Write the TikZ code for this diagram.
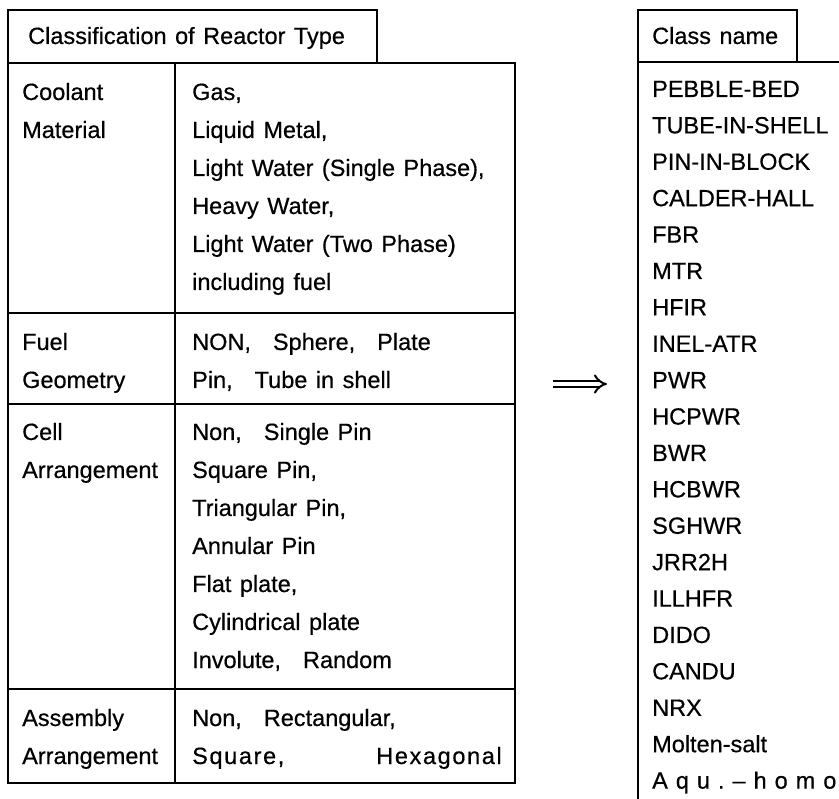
\documentclass[tikz,border=0pt]{standalone}
\usepackage{fontspec}
\setmainfont{Liberation Sans}[WordSpace=1.3, FakeBold=0.5]
\newfontfamily\spacedfont{Liberation Sans}[LetterSpace=7, FakeBold=0.5]
\usetikzlibrary{arrows.meta}
\newcommand\cgap{\hspace{22pt}}
\begin{document}
\begin{tikzpicture}[x=1pt,y=-1pt,
  rule/.style={line width=1.6pt, line cap=rect},
  txt/.style={anchor=base west, inner sep=0pt, font=\fontsize{23.5}{28}\selectfont},
  txtr/.style={anchor=base east, inner sep=0pt, font=\fontsize{23.5}{28}\selectfont},
]
\useasboundingbox (0,0) rectangle (839,799);
% ---------- left table ----------
\draw[rule] (8,10) rectangle (377,63);
\draw[rule] (8,63) rectangle (515,783);
\draw[rule] (8,313) -- (515,313);
\draw[rule] (8,404) -- (515,404);
\draw[rule] (8,689) -- (515,689);
\draw[rule] (175,63) -- (175,783);
\node[txt] (hd) at (28,44) {Classification of Reactor Type};
% first column
\node[txt] (cm1) at (22,100) {Coolant};
\node[txt] (cm2) at (22,138) {Material};
\node[txt] (fg1) at (22,350) {Fuel};
\node[txt] (fg2) at (22,388) {Geometry};
\node[txt] (ca1) at (22,440) {Cell};
\node[txt] (ca2) at (22,478) {Arrangement};
\node[txt] (aa1) at (22,726) {Assembly};
\node[txt] (aa2) at (22,764) {Arrangement};
% second column
\node[txt] (v1) at (192,100) {Gas,};
\node[txt] (v2) at (192,138) {Liquid Metal,};
\node[txt] (v3) at (192,176) {Light Water (Single Phase),};
\node[txt] (v4) at (192,214) {Heavy Water,};
\node[txt] (v5) at (192,252) {Light Water (Two Phase)};
\node[txt] (v6) at (192,290) {including fuel};
\node[txt] (v7) at (192,350) {NON,\cgap Sphere,\cgap Plate};
\node[txt] (v8) at (192,388) {Pin,\cgap Tube in shell};
\node[txt] (v9) at (192,440) {Non,\cgap Single Pin};
\node[txt] (v10) at (192,478) {Square Pin,};
\node[txt] (v11) at (192,516) {Triangular Pin,};
\node[txt] (v12) at (192,554) {Annular Pin};
\node[txt] (v13) at (192,592) {Flat plate,};
\node[txt] (v14) at (192,630) {Cylindrical plate};
\node[txt] (v15) at (192,668) {Involute,\cgap Random};
\node[txt] (v16) at (192,726) {Non,\cgap Rectangular,};
\node[txt] (v17) at (192,764) {\spacedfont Square,};
\node[txtr] (v18) at (502,764) {\spacedfont Hexagonal};
% ---------- arrow ----------
\coordinate (arrS) at (553,384);
\coordinate (arrE) at (607,384);
\draw[line width=2pt, double distance=4.5pt, -{Implies}] (arrS) -- (arrE);
% ---------- right table ----------
\draw[rule] (638,10) rectangle (797,62);
\draw[rule] (638,799) -- (638,62) -- (839,62);
\node[txt] (cn) at (652,44) {Class name};
\node[txt] (n1) at (652,97.0) {PEBBLE-BED};
\node[txt] (n2) at (652,133.4) {TUBE-IN-SHELL};
\node[txt] (n3) at (652,169.8) {PIN-IN-BLOCK};
\node[txt] (n4) at (652,206.2) {CALDER-HALL};
\node[txt] (n5) at (652,242.6) {FBR};
\node[txt] (n6) at (652,279.0) {MTR};
\node[txt] (n7) at (652,315.4) {HFIR};
\node[txt] (n8) at (652,351.8) {INEL-ATR};
\node[txt] (n9) at (652,388.2) {PWR};
\node[txt] (n10) at (652,424.6) {HCPWR};
\node[txt] (n11) at (652,461.0) {BWR};
\node[txt] (n12) at (652,497.4) {HCBWR};
\node[txt] (n13) at (652,533.8) {SGHWR};
\node[txt] (n14) at (652,570.2) {JRR2H};
\node[txt] (n15) at (652,606.6) {ILLHFR};
\node[txt] (n16) at (652,643.0) {DIDO};
\node[txt] (n17) at (652,679.4) {CANDU};
\node[txt] (n18) at (652,715.8) {NRX};
\node[txt] (n19) at (652,752.2) {Molten-salt};
\node[txt] (n20) at (652,788.6) {A\hspace{8pt}q\hspace{8pt}u\hspace{8pt}.\hspace{8pt}–\hspace{8pt}h\hspace{8pt}o\hspace{8pt}m\hspace{8pt}o};
\end{tikzpicture}
\end{document}
